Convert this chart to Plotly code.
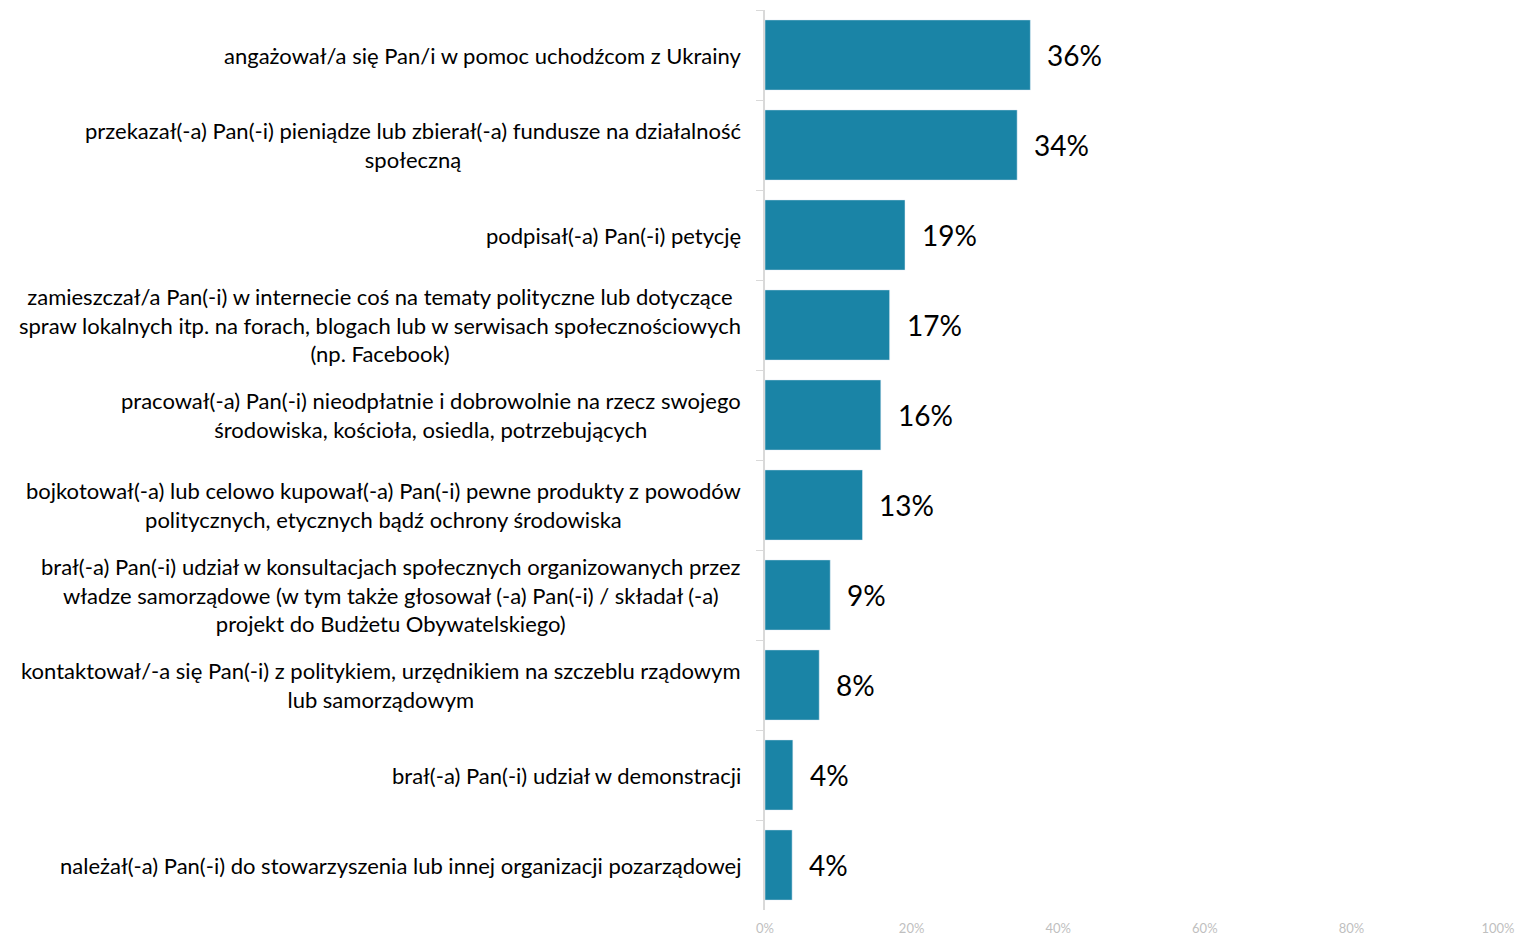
import plotly.graph_objects as go

# Kolor słupków
KOLOR = "#1A84A6"

kategorie = [
    "angażował/a się Pan/i w pomoc uchodźcom z Ukrainy",
    "przekazał(-a) Pan(-i) pieniądze lub zbierał(-a) fundusze na działalność<br>społeczną",
    "podpisał(-a) Pan(-i) petycję",
    "zamieszczał/a Pan(-i) w internecie coś na tematy polityczne lub dotyczące<br>spraw lokalnych itp. na forach, blogach lub w serwisach społecznościowych<br>(np. Facebook)",
    "pracował(-a) Pan(-i) nieodpłatnie i dobrowolnie na rzecz swojego<br>środowiska, kościoła, osiedla, potrzebujących",
    "bojkotował(-a) lub celowo kupował(-a) Pan(-i) pewne produkty z powodów<br>politycznych, etycznych bądź ochrony środowiska",
    "brał(-a) Pan(-i) udział w konsultacjach społecznych organizowanych przez<br>władze samorządowe (w tym także głosował (-a) Pan(-i) / składał (-a)<br>projekt do Budżetu Obywatelskiego)",
    "kontaktował/-a się Pan(-i) z politykiem, urzędnikiem na szczeblu rządowym<br>lub samorządowym",
    "brał(-a) Pan(-i) udział w demonstracji",
    "należał(-a) Pan(-i) do stowarzyszenia lub innej organizacji pozarządowej",
]
wartosci = [36.2, 34.4, 19.1, 17.0, 15.8, 13.3, 8.9, 7.4, 3.8, 3.7]
etykiety = ["36%", "34%", "19%", "17%", "16%", "13%", "9%", "8%", "4%", "4%"]
ticki = [0, 20, 40, 60, 80, 100]
ticki_tekst = ["0%", "20%", "40%", "60%", "80%", "100%"]

ids = list(range(len(kategorie)))

fig = go.Figure(go.Bar(
    x=wartosci,
    y=ids,
    orientation="h",
    marker_color=KOLOR,
    width=0.78,
    hoverinfo="skip",
))

for i, (kat, w, et) in enumerate(zip(kategorie, wartosci, etykiety)):
    fig.add_annotation(
        x=0, xref="paper", y=i, yref="y",
        text=kat, showarrow=False,
        xanchor="right", xshift=-22, align="center",
        font=dict(size=22, color="#000000"),
    )
    fig.add_annotation(
        x=w, xref="x", y=i, yref="y",
        text=et, showarrow=False,
        xanchor="left", xshift=15,
        font=dict(size=28, color="#000000"),
    )

# strona HTML ma 8px marginesu, więc figura jest przesunięta
fig.update_layout(
    width=1521, height=929,
    margin=dict(l=757, r=31, t=2, b=27),
    paper_bgcolor="white",
    plot_bgcolor="white",
    font=dict(family="Lato, Open Sans, sans-serif"),
    showlegend=False,
    bargap=0.22,
)
fig.update_xaxes(
    range=[0, 100],
    tickvals=ticki, ticktext=ticki_tekst,
    showgrid=False, zeroline=False,
    tickfont=dict(size=13, color="#BFBFBF"),
    ticklabelstandoff=9,
    showline=False,
    automargin=False,
)
fig.update_yaxes(
    type="category",
    autorange="reversed",
    showticklabels=False,
    showgrid=False, zeroline=False,
    showline=True, linecolor="#D9D9D9", linewidth=2,
    ticks="outside", tickson="boundaries", ticklen=7, tickcolor="#D9D9D9",
    automargin=False,
)

fig.write_html("out.html")
